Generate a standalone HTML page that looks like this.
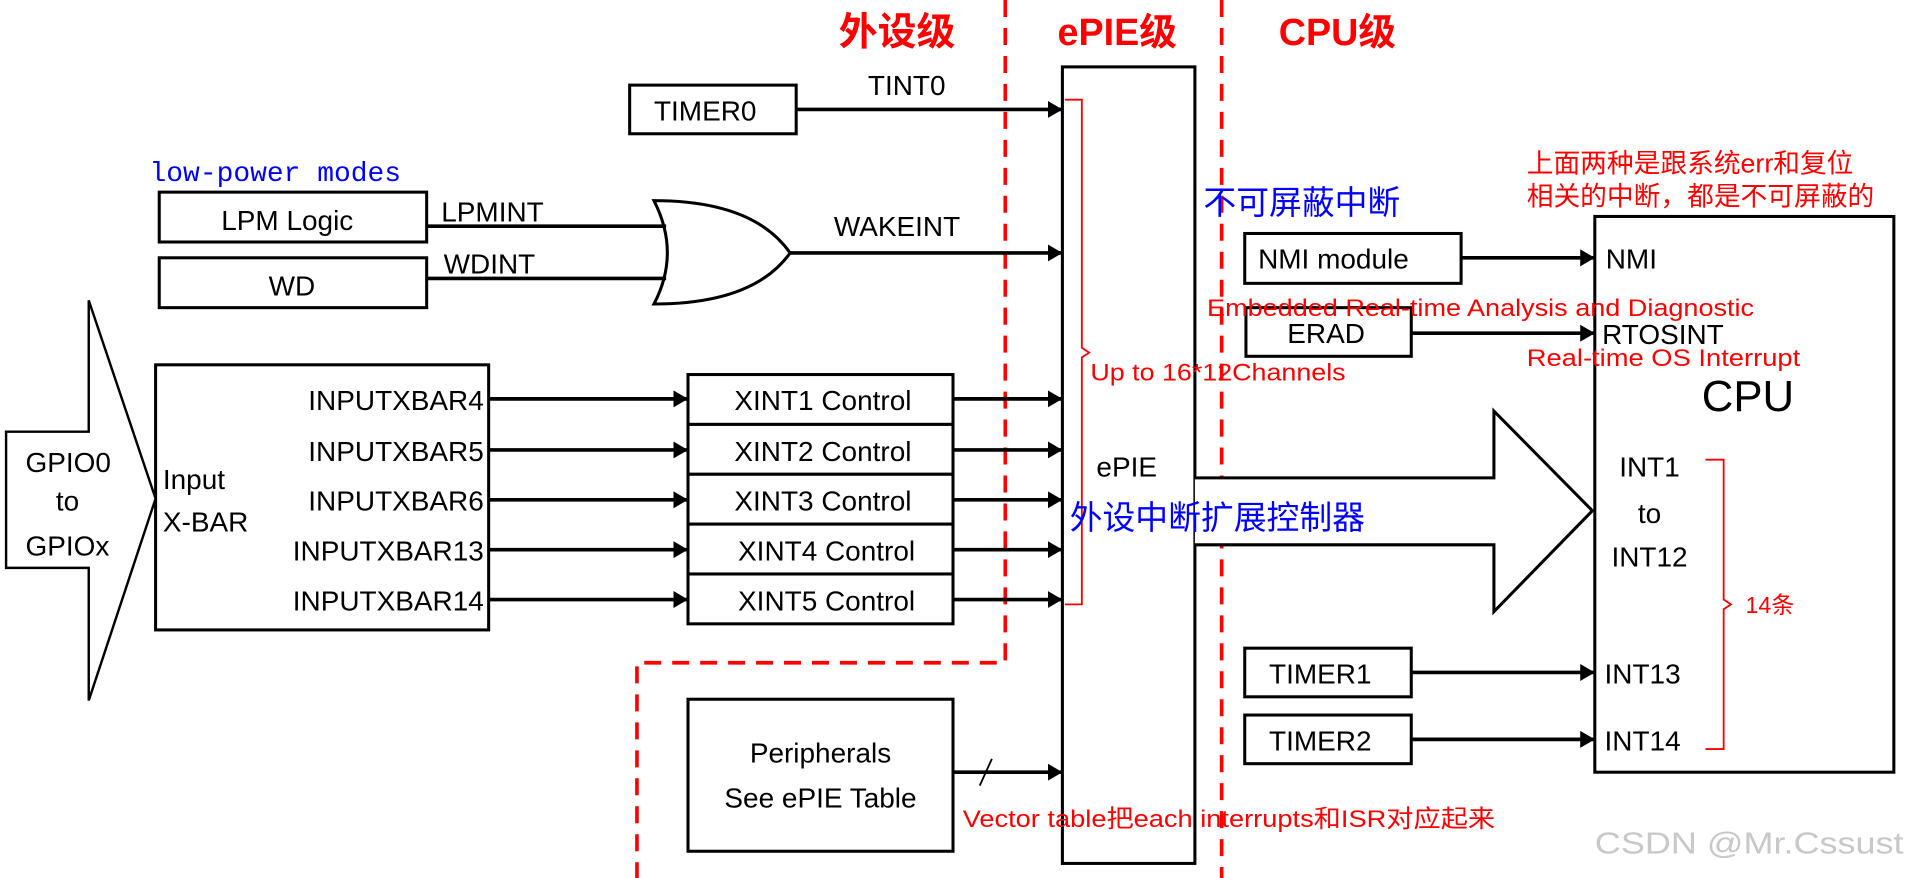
<!DOCTYPE html>
<html><head><meta charset="utf-8"><style>
html,body{margin:0;padding:0;background:#fff;width:1906px;height:878px;overflow:hidden}
svg{display:block}
text{font-family:"Liberation Sans","Noto Sans CJK SC",sans-serif;font-size:23px;fill:#000}
.r{fill:#f00}.b{fill:#00f}
</style></head><body>
<svg width="1906" height="878" viewBox="0 0 1568 722" preserveAspectRatio="none" xmlns="http://www.w3.org/2000/svg">
<defs><marker id="a" markerWidth="12" markerHeight="14" refX="11" refY="7" orient="auto" markerUnits="userSpaceOnUse"><path d="M0,0 L12,7 L0,14 Z" fill="#000"/></marker></defs>
<g stroke="#f00" stroke-width="3" stroke-dasharray="14,9" fill="none">
<path d="M827,0 V545 H524 V722"/><path d="M1005,0 V722"/></g>
<g font-weight="bold"><text class="r" x="690" y="37" style="font-size:32px">外设级</text><text class="r" x="870" y="37" style="font-size:31px">ePIE级</text><text class="r" x="1052" y="37" style="font-size:31px">CPU级</text></g>
<g fill="#fff" stroke="#000" stroke-width="2.5">
<rect x="518" y="70" width="137" height="40"/>
<rect x="874" y="55" width="109" height="655"/>
<rect x="131" y="158" width="220" height="41"/><rect x="131" y="212" width="220" height="41"/>
<rect x="128" y="300" width="274" height="218"/>
<rect x="566" y="308" width="218" height="41"/><rect x="566" y="349" width="218" height="41"/><rect x="566" y="390" width="218" height="41"/><rect x="566" y="431" width="218" height="41"/><rect x="566" y="472" width="218" height="41"/>
<rect x="566" y="575" width="218" height="125"/>
<rect x="1312" y="178" width="246" height="457"/>
<rect x="1024" y="192" width="178" height="41"/><rect x="1025" y="253" width="136" height="40"/>
<rect x="1024" y="533" width="137" height="40"/><rect x="1024" y="588" width="137" height="40"/>
<path d="M5,355 H73 V247 L128,410 L73,576 V467 H5 Z" stroke-width="2"/>
<path d="M983,393 H1229 V338 L1310,420 L1229,503 V448 H983" stroke-width="2.5"/>
<path d="M538,165 Q620,165 650,208 Q620,250 538,250 Q560,208 538,165 Z" stroke-width="2.5"/>
</g>
<g stroke="#000" stroke-width="3" marker-end="url(#a)" fill="none">
<path d="M655,90 H873"/><path d="M650,208 H873"/>
<path d="M402,328 H565"/><path d="M402,370 H565"/><path d="M402,411 H565"/><path d="M402,452 H565"/><path d="M402,493 H565"/>
<path d="M784,328 H873"/><path d="M784,370 H873"/><path d="M784,411 H873"/><path d="M784,452 H873"/><path d="M784,493 H873"/>
<path d="M784,635 H873"/>
<path d="M1202,212 H1311"/><path d="M1161,274 H1311"/><path d="M1161,553 H1311"/><path d="M1161,608 H1311"/>
</g>
<g stroke="#000" stroke-width="3" fill="none"><path d="M351,186 H548"/><path d="M351,229 H548"/><path d="M806,646 L816,624" stroke-width="1.5"/></g>
<g stroke="#f00" stroke-width="1.5" fill="none">
<path d="M876,82 H890 V286 L896,290 L890,294 V497 H876"/>
<path d="M1403,378 H1418 V493 L1424,497 L1418,501 V616 H1403"/></g>
<text x="538" y="99">TIMER0</text><text x="714" y="78">TINT0</text>
<text x="123" y="149" class="b" style="font-family:'Liberation Mono',monospace;font-size:23px">low-power modes</text>
<text x="182" y="189">LPM Logic</text><text x="221" y="243">WD</text>
<text x="363" y="182">LPMINT</text><text x="365" y="225">WDINT</text><text x="686" y="194">WAKEINT</text>
<text x="21" y="388">GPIO0</text><text x="46" y="420">to</text><text x="21" y="457">GPIOx</text>
<text x="134" y="402">Input</text><text x="134" y="437">X-BAR</text>
<g text-anchor="end"><text x="398" y="337">INPUTXBAR4</text><text x="398" y="379">INPUTXBAR5</text><text x="398" y="420">INPUTXBAR6</text><text x="398" y="461">INPUTXBAR13</text><text x="398" y="502">INPUTXBAR14</text></g>
<g text-anchor="middle"><text x="677" y="337">XINT1 Control</text><text x="677" y="379">XINT2 Control</text><text x="677" y="420">XINT3 Control</text><text x="680" y="461">XINT4 Control</text><text x="680" y="502">XINT5 Control</text>
<text x="675" y="627">Peripherals</text><text x="675" y="664">See ePIE Table</text>
<text x="1357" y="392">INT1</text><text x="1357" y="430">to</text><text x="1357" y="466">INT12</text></g>
<text x="902" y="392">ePIE</text>
<text x="897" y="313" class="r" style="font-size:20px" textLength="210" lengthAdjust="spacingAndGlyphs">Up to 16*12Channels</text>
<text x="880" y="435" class="b" style="font-size:27px">外设中断扩展控制器</text>
<text x="990" y="176" class="b" style="font-size:27px">不可屏蔽中断</text>
<text x="1256" y="142" class="r" style="font-size:22px">上面两种是跟系统err和复位</text>
<text x="1256" y="169" class="r" style="font-size:22px">相关的中断，都是不可屏蔽的</text>
<text x="1035" y="221">NMI module</text><text x="1059" y="282">ERAD</text>
<text x="1321" y="221">NMI</text><text x="1318" y="283">RTOSINT</text>
<text x="993" y="260" class="r" style="font-size:20px" textLength="450" lengthAdjust="spacingAndGlyphs">Embedded Real-time Analysis and Diagnostic</text>
<text x="1256" y="301" class="r" style="font-size:20px" textLength="225" lengthAdjust="spacingAndGlyphs">Real-time OS Interrupt</text>
<text x="1400" y="338" style="font-size:36px">CPU</text>
<text x="1044" y="562">TIMER1</text><text x="1044" y="617">TIMER2</text>
<text x="1320" y="562">INT13</text><text x="1320" y="617">INT14</text>
<text x="1436" y="504" class="r" style="font-size:19px">14条</text>
<text x="792" y="680" class="r" style="font-size:20px" textLength="438" lengthAdjust="spacingAndGlyphs">Vector table把each interrupts和ISR对应起来</text>
<text x="1312" y="702" style="font-size:25px;fill:#c8c8c8" textLength="254" lengthAdjust="spacingAndGlyphs">CSDN @Mr.Cssust</text>
</svg>
</body></html>
